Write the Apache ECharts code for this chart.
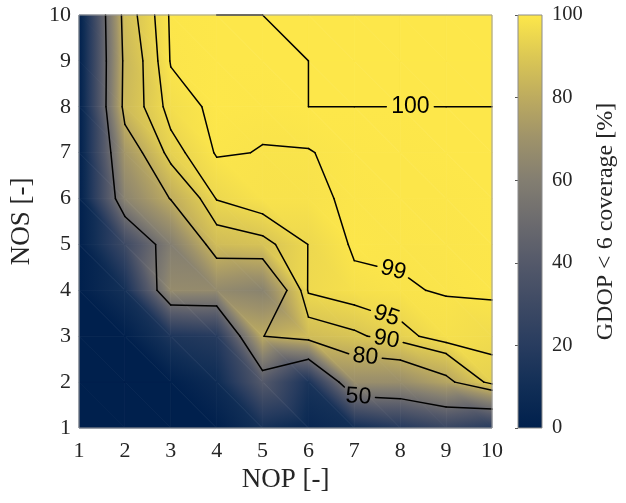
<!DOCTYPE html>
<html><head><meta charset="utf-8">
<script src="https://cdn.jsdelivr.net/npm/echarts@6/dist/echarts.min.js"></script>
<style>html,body{margin:0;padding:0;background:#fff}#c{width:626px;height:503px}</style>
</head><body><div id="c"></div>
<script>
// ---- data ----
const nop = [1, 2, 3, 4, 5, 6, 7, 8, 9, 10];           // x nodes
const nos = [1, 2, 3, 4, 5, 6, 7, 8, 9, 10];           // y nodes
// coverage [%] per NOS row (1..10), values along NOP 1..10
const covNos1  = [0, 0, 0, 0, 12, 5, 10, 18, 27, 20];
const covNos2  = [0, 0, 0, 8, 40, 14, 68, 68, 77, 92.8];
const covNos3  = [0, 0, 15, 19, 79.8, 86, 88.8, 93, 97.9, 96.5];
const covNos4  = [0, 11.5, 66.5, 66, 62.3, 95.6, 97.9, 98.8, 99.16, 99.66];
const covNos5  = [0, 29.7, 60, 86, 88, 95.1, 99.6, 99.3, 99.5, 99.8];
const covNos6  = [0, 63, 80.5, 95.3, 98.5, 98.5, 99.4, 99.6, 99.7, 99.85];
const covNos7  = [0, 72, 93, 99.4, 98.86, 98.9, 99.6, 99.8, 99.9, 99.9];
const covNos8  = [0, 85, 97, 99.95, 99.65, 100, 100, 100, 100, 100];
const covNos9  = [0, 84, 99.3, 99.9, 99.9, 100, 100, 100, 100, 100];
const covNos10 = [0, 86.5, 99.6, 100, 100, 100, 100, 100, 100, 100];
const coverage = [covNos1, covNos2, covNos3, covNos4, covNos5, covNos6, covNos7, covNos8, covNos9, covNos10];
const contourLevels = [50, 80, 90, 95, 99, 100];
const colorbarRange = [0, 100];

// ---- layout / style ----
const labelAtNop = [7.09, 7.24, 7.70, 7.70, 7.85, 8.22];   // where each contour label sits
const cmapHex = ['#00204d','#112e56','#283c5f','#3e4a64','#54596a','#6c6b6e','#837e71','#9e926a','#bdab5f','#dcc854','#fde74a'];
const SERIF = '"Liberation Serif", "Times New Roman", serif';
const SANS = '"Liberation Sans", Arial, sans-serif';

const cmapRGB = cmapHex.map(h => [parseInt(h.slice(1,3),16), parseInt(h.slice(3,5),16), parseInt(h.slice(5,7),16)]);
const nK = cmapRGB.length - 1;
function cmap(v) {
  let t = (v - colorbarRange[0]) / (colorbarRange[1] - colorbarRange[0]);
  t = Math.max(0, Math.min(1, t));
  const f = t * nK; let i = Math.floor(f); if (i >= nK) i = nK - 1;
  const u = f - i, a = cmapRGB[i], b = cmapRGB[i + 1];
  return 'rgb(' + [0,1,2].map(k => Math.round(a[k] + (b[k] - a[k]) * u)).join(',') + ')';
}
const knotVals = cmapRGB.map((_, k) => colorbarRange[0] + (colorbarRange[1] - colorbarRange[0]) * k / nK);

function triFill(P, V) {
  const vmin = Math.min(V[0], V[1], V[2]), vmax = Math.max(V[0], V[1], V[2]);
  const dx1 = P[1][0]-P[0][0], dy1 = P[1][1]-P[0][1], dx2 = P[2][0]-P[0][0], dy2 = P[2][1]-P[0][1];
  const dv1 = V[1]-V[0], dv2 = V[2]-V[0];
  const det = dx1*dy2 - dx2*dy1;
  if (vmax - vmin < 1e-6 || Math.abs(det) < 1e-9) return cmap(V[0]);
  const gx = (dv1*dy2 - dv2*dy1) / det, gy = (dx1*dv2 - dx2*dv1) / det;
  const g2 = gx*gx + gy*gy;
  const ax = P[0][0] + (vmin - V[0]) * gx / g2, ay = P[0][1] + (vmin - V[0]) * gy / g2;
  const bx = P[0][0] + (vmax - V[0]) * gx / g2, by = P[0][1] + (vmax - V[0]) * gy / g2;
  const vals = [vmin].concat(knotVals.filter(k => k > vmin && k < vmax), [vmax]);
  const stops = vals.map(v => ({ offset: (v - vmin) / (vmax - vmin), color: cmap(v) }));
  return new echarts.graphic.LinearGradient(ax, ay, bx, by, stops, true);
}
function tri(P, V) {
  const f = triFill(P, V);
  return { type: 'polygon', silent: true, shape: { points: P }, style: { fill: f, stroke: f, lineWidth: 0.8 } };
}

// cells for shading
const cells = [];
for (let j = 0; j < nos.length - 1; j++)
  for (let i = 0; i < nop.length - 1; i++)
    cells.push([nop[i], nos[j], nop[i+1], nos[j+1], coverage[j][i], coverage[j][i+1], coverage[j+1][i], coverage[j+1][i+1]]);

// marching squares contours
function contourSegs(level) {
  const segs = [];
  for (let j = 0; j < nos.length - 1; j++) for (let i = 0; i < nop.length - 1; i++) {
    const pts = [[nop[i], nos[j]], [nop[i+1], nos[j]], [nop[i+1], nos[j+1]], [nop[i], nos[j+1]]];
    const vals = [coverage[j][i], coverage[j][i+1], coverage[j+1][i+1], coverage[j+1][i]];
    const ins = vals.map(v => v >= level);
    const cr = {};
    let n = 0;
    for (let k = 0; k < 4; k++) {
      const a = k, b = (k + 1) % 4;
      if (ins[a] !== ins[b]) {
        const t = (level - vals[a]) / (vals[b] - vals[a]);
        cr[k] = [pts[a][0] + t * (pts[b][0] - pts[a][0]), pts[a][1] + t * (pts[b][1] - pts[a][1])];
        n++;
      }
    }
    const pairs = [];
    if (n === 2) { const ks = Object.keys(cr); pairs.push([cr[ks[0]], cr[ks[1]]]); }
    else if (n === 4) {
      const c = (vals[0] + vals[1] + vals[2] + vals[3]) / 4 >= level;
      if (c === ins[0]) { pairs.push([cr[0], cr[1]]); pairs.push([cr[2], cr[3]]); }
      else { pairs.push([cr[3], cr[0]]); pairs.push([cr[1], cr[2]]); }
    }
    pairs.forEach(p => {
      if (Math.hypot(p[1][0] - p[0][0], p[1][1] - p[0][1]) > 1e-6) segs.push(p);
    });
  }
  return segs;
}

const contourData = [], labelData = [], labelCenters = [];
contourLevels.forEach((lv, li) => {
  const segs = contourSegs(lv);
  segs.forEach(s => contourData.push([s[0][0], s[0][1], s[1][0], s[1][1], li]));
  const lx = labelAtNop[li];
  let found = null;
  for (const s of segs) {
    const xa = Math.min(s[0][0], s[1][0]), xb = Math.max(s[0][0], s[1][0]);
    if (xb - xa > 1e-6 && lx >= xa && lx <= xb) { found = s; break; }
  }
  if (found) {
    const t = (lx - found[0][0]) / (found[1][0] - found[0][0]);
    const cy = found[0][1] + t * (found[1][1] - found[0][1]);
    labelCenters[li] = [lx, cy];
    labelData.push([lx, cy, li, found[0][0], found[0][1], found[1][0], found[1][1]]);
  }
});
const gapR = contourLevels.map(l => String(l).length >= 3 ? 24 : 17);

function clipOutside(A, B, C, R) {
  const dx = B[0]-A[0], dy = B[1]-A[1];
  const fx = A[0]-C[0], fy = A[1]-C[1];
  const a = dx*dx + dy*dy, b = 2*(fx*dx + fy*dy), c = fx*fx + fy*fy - R*R;
  const disc = b*b - 4*a*c;
  if (disc <= 0) return [[A, B]];
  const sq = Math.sqrt(disc);
  const t1 = (-b - sq) / (2*a), t2 = (-b + sq) / (2*a);
  const P = t => [A[0] + t*dx, A[1] + t*dy];
  const out = [];
  if (t1 > 0) out.push([A, P(Math.min(t1, 1))]);
  if (t2 < 1) out.push([P(Math.max(t2, 0)), B]);
  return out;
}

const chart = echarts.init(document.getElementById('c'), null, { renderer: 'canvas' });
chart.setOption({
  animation: false,
  backgroundColor: '#fff',
  grid: [
    { left: 78, top: 15, width: 414, height: 413, show: true, borderColor: '#9c9c9c', borderWidth: 1, backgroundColor: 'transparent', z: 10 },
    { left: 518, top: 15, width: 24, height: 413, show: true, borderColor: '#8c8c8c', borderWidth: 1, backgroundColor: 'transparent', z: 10 }
  ],
  xAxis: [
    { gridIndex: 0, type: 'value', min: 1, max: 10, interval: 1,
      name: 'NOP [-]', nameLocation: 'middle', nameGap: 35,
      nameTextStyle: { fontFamily: SERIF, fontSize: 27, color: '#262626' },
      axisLine: { show: false }, axisTick: { show: false }, splitLine: { show: false },
      axisLabel: { fontFamily: SERIF, fontSize: 22, color: '#262626', margin: 12 } },
    { gridIndex: 1, type: 'value', min: 0, max: 1, show: false }
  ],
  yAxis: [
    { gridIndex: 0, type: 'value', min: 1, max: 10, interval: 1,
      name: 'NOS [-]', nameLocation: 'middle', nameGap: 44, nameRotate: 90,
      nameTextStyle: { fontFamily: SERIF, fontSize: 27, color: '#262626' },
      axisLine: { show: false }, axisTick: { show: false }, splitLine: { show: false },
      axisLabel: { fontFamily: SERIF, fontSize: 22, color: '#262626', margin: 8 } },
    { gridIndex: 1, type: 'value', min: colorbarRange[0], max: colorbarRange[1], interval: 20, position: 'right',
      name: 'GDOP < 6 coverage [%]', nameLocation: 'middle', nameGap: 52, nameRotate: 90,
      nameTextStyle: { fontFamily: SERIF, fontSize: 24, color: '#262626' },
      axisLine: { show: false }, splitLine: { show: false },
      axisTick: { show: true, inside: true, length: 3, lineStyle: { color: '#555', width: 1 } },
      axisLabel: { fontFamily: SERIF, fontSize: 20.5, color: '#262626', margin: 10 } }
  ],
  series: [
    { type: 'custom', name: 'shading', xAxisIndex: 0, yAxisIndex: 0, z: 1, silent: true,
      data: cells,
      renderItem: function (params, api) {
        const x0 = api.value(0), y0 = api.value(1), x1 = api.value(2), y1 = api.value(3);
        const v00 = api.value(4), v10 = api.value(5), v01 = api.value(6), v11 = api.value(7);
        const p00 = api.coord([x0, y0]), p10 = api.coord([x1, y0]), p01 = api.coord([x0, y1]), p11 = api.coord([x1, y1]);
        return { type: 'group', children: [tri([p00, p10, p01], [v00, v10, v01]), tri([p10, p11, p01], [v10, v11, v01])] };
      } },
    { type: 'custom', name: 'contours', xAxisIndex: 0, yAxisIndex: 0, z: 3, silent: true,
      data: contourData,
      renderItem: function (params, api) {
        const A = api.coord([api.value(0), api.value(1)]), B = api.coord([api.value(2), api.value(3)]);
        const li = api.value(4);
        let pieces = [[A, B]];
        if (labelCenters[li]) pieces = clipOutside(A, B, api.coord(labelCenters[li]), gapR[li]);
        return { type: 'group', children: pieces.map(p => ({
          type: 'line', silent: true,
          shape: { x1: p[0][0], y1: p[0][1], x2: p[1][0], y2: p[1][1] },
          style: { stroke: '#000', lineWidth: 1.5, lineCap: 'round' } })) };
      } },
    { type: 'custom', name: 'labels', xAxisIndex: 0, yAxisIndex: 0, z: 4, silent: true,
      data: labelData,
      renderItem: function (params, api) {
        const c = api.coord([api.value(0), api.value(1)]);
        const a = api.coord([api.value(3), api.value(4)]), b = api.coord([api.value(5), api.value(6)]);
        let ang = Math.atan2(b[1] - a[1], b[0] - a[0]);
        if (ang > Math.PI / 2) ang -= Math.PI;
        if (ang < -Math.PI / 2) ang += Math.PI;
        return { type: 'text', x: c[0], y: c[1], rotation: -ang, silent: true,
          style: { text: String(contourLevels[api.value(2)]), font: '23px ' + SANS, fill: '#000', align: 'center', verticalAlign: 'middle' } };
      } },
    { type: 'custom', name: 'colorbar', xAxisIndex: 1, yAxisIndex: 1, z: 1, silent: true,
      data: [[0, colorbarRange[0], 1, colorbarRange[1]]],
      renderItem: function (params, api) {
        const a = api.coord([api.value(0), api.value(1)]), b = api.coord([api.value(2), api.value(3)]);
        const stops = knotVals.map((v, k) => ({ offset: k / nK, color: cmap(v) }));
        return { type: 'rect', silent: true,
          shape: { x: a[0], y: b[1], width: b[0] - a[0], height: a[1] - b[1] },
          style: { fill: new echarts.graphic.LinearGradient(0, a[1], 0, b[1], stops, true) } };
      } }
  ]
});
</script></body></html>
